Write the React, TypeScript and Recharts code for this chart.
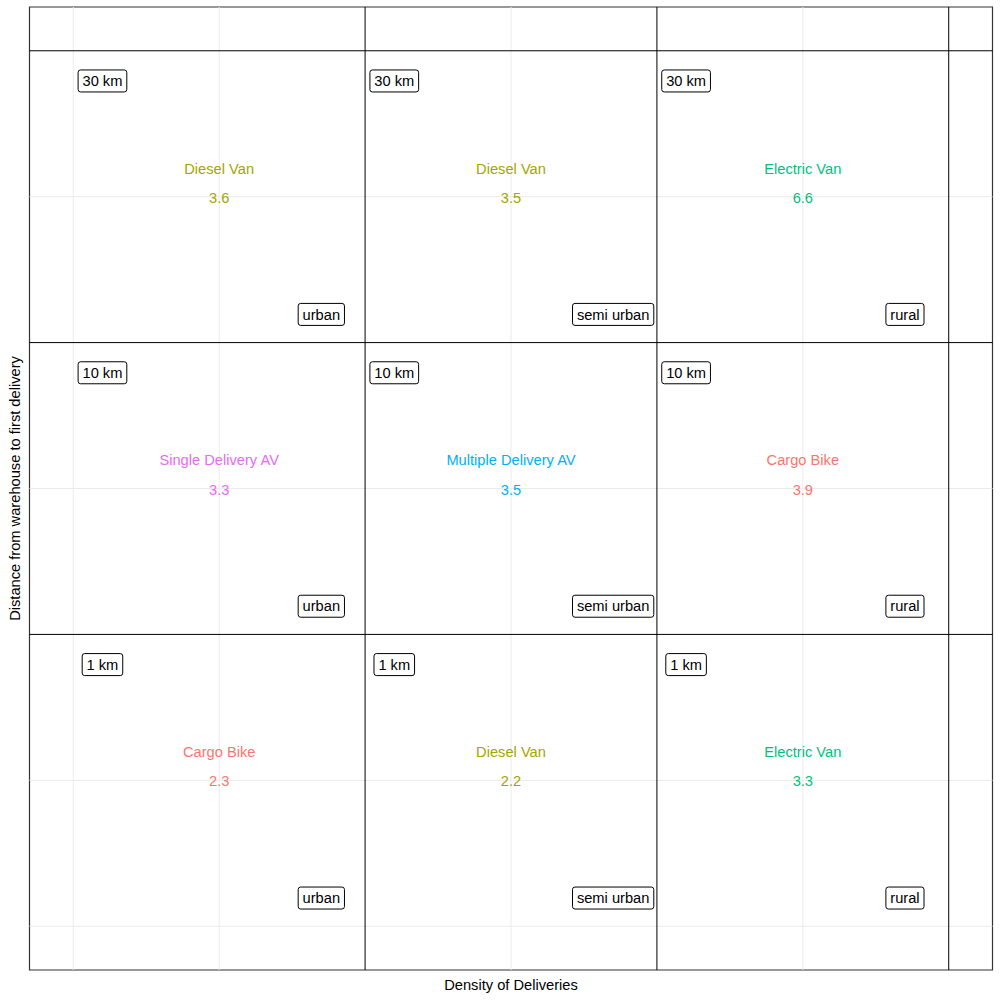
import React from 'react';
import { ScatterChart, Scatter, XAxis, YAxis, ReferenceLine, ReferenceArea } from 'recharts';

const distanceLabels = ['30 km', '10 km', '1 km'];
const areaLabels = ['urban', 'semi urban', 'rural'];
const vehicleRows = [
  ['Diesel Van', 'Diesel Van', 'Electric Van'],
  ['Single Delivery AV', 'Multiple Delivery AV', 'Cargo Bike'],
  ['Cargo Bike', 'Diesel Van', 'Electric Van'],
];
const valueRows = [
  [3.6, 3.5, 6.6],
  [3.3, 3.5, 3.9],
  [2.3, 2.2, 3.3],
];
const vehicleColors: Record<string, string> = {
  'Cargo Bike': '#F8766D',
  'Diesel Van': '#A3A500',
  'Electric Van': '#00BF7D',
  'Multiple Delivery AV': '#00B0F6',
  'Single Delivery AV': '#E76BF3',
};
const columnCenters = [0.5, 1.5, 2.5];
const rowCenters = [2.5, 1.5, 0.5];
const gridValues = [0, 0.5, 1.5, 2.5];
const dividerValues = [1, 2, 3];
const DOMAIN: [number, number] = [-0.15, 3.15];

const FONT = '"Liberation Sans", Arial, sans-serif';
const FS = 14.67;

type Pt = { x: number; y: number; text: string; color: string };

const nameData: Pt[] = [];
const valueData: Pt[] = [];
const distData: Pt[] = [];
const areaData: Pt[] = [];
rowCenters.forEach((ry, r) => {
  columnCenters.forEach((cx, c) => {
    const v = vehicleRows[r][c];
    nameData.push({ x: cx, y: ry + 0.1, text: v, color: vehicleColors[v] });
    valueData.push({ x: cx, y: ry, text: valueRows[r][c].toFixed(1), color: vehicleColors[v] });
    distData.push({ x: cx - 0.4, y: ry + 0.4, text: distanceLabels[r], color: '#000' });
    areaData.push({ x: cx + 0.35, y: ry - 0.4, text: areaLabels[c], color: '#000' });
  });
});

let ctx: CanvasRenderingContext2D | null = null;
function measure(t: string): number {
  try {
    if (!ctx) ctx = document.createElement('canvas').getContext('2d');
    if (ctx) {
      ctx.font = `${FS}px ${FONT}`;
      return ctx.measureText(t).width;
    }
  } catch (e) {}
  return t.length * FS * 0.55;
}

const PlainText = (props: any) => {
  const { cx, cy, payload } = props;
  if (cx == null || cy == null) return null;
  return (
    <text x={cx} y={cy + 1} dy="0.35em" textAnchor="middle" fill={payload.color} fontSize={FS} fontFamily={FONT}>
      {payload.text}
    </text>
  );
};

const BoxLabel = (props: any) => {
  const { cx, cy, payload } = props;
  if (cx == null || cy == null) return null;
  const w = measure(payload.text) + 8.8;
  const h = 22;
  const x0 = cx;
  const y0 = cy + 1;
  return (
    <g>
      <rect x={x0 - w / 2} y={y0 - h / 2} width={w} height={h} rx={2.5} ry={2.5} fill="#fff" stroke="#000" strokeWidth={1} />
      <text x={x0} y={y0} dy="0.35em" textAnchor="middle" fill="#000" fontSize={FS} fontFamily={FONT}>
        {payload.text}
      </text>
    </g>
  );
};

export default function App() {
  return (
    <div style={{ position: 'absolute', left: 0, top: 0, width: 1000, height: 1000, background: '#fff' }}>
      <ScatterChart width={1000} height={1000} margin={{ top: 7, right: 7.5, left: 0, bottom: 0 }}>
        <XAxis
          dataKey="x"
          type="number"
          domain={DOMAIN}
          allowDataOverflow
          tick={false}
          tickLine={false}
          axisLine={false}
          height={30}
          label={{ value: 'Density of Deliveries', position: 'center', fill: '#000', fontSize: FS, fontFamily: FONT }}
        />
        <YAxis
          dataKey="y"
          type="number"
          domain={DOMAIN}
          allowDataOverflow
          tick={false}
          tickLine={false}
          axisLine={false}
          width={29.5}
          label={{ value: 'Distance from warehouse to first delivery', position: 'center', angle: -90, fill: '#000', fontSize: FS, fontFamily: FONT }}
        />
        {gridValues.map((v) => (
          <ReferenceLine key={'gx' + v} x={v} stroke="#EBEBEB" strokeWidth={1} />
        ))}
        {gridValues.map((v) => (
          <ReferenceLine key={'gy' + v} y={v} stroke="#EBEBEB" strokeWidth={1} />
        ))}
        {dividerValues.map((v) => (
          <ReferenceLine key={'dx' + v} x={v} stroke="#000" strokeWidth={1} />
        ))}
        {dividerValues.map((v) => (
          <ReferenceLine key={'dy' + v} y={v} stroke="#000" strokeWidth={1} />
        ))}
        <ReferenceArea x1={DOMAIN[0]} x2={DOMAIN[1]} y1={DOMAIN[0]} y2={DOMAIN[1]} fill="none" fillOpacity={0} stroke="#333333" strokeWidth={1.2} strokeOpacity={1} />
        <Scatter data={nameData} shape={PlainText} isAnimationActive={false} />
        <Scatter data={valueData} shape={PlainText} isAnimationActive={false} />
        <Scatter data={distData} shape={BoxLabel} isAnimationActive={false} />
        <Scatter data={areaData} shape={BoxLabel} isAnimationActive={false} />
      </ScatterChart>
    </div>
  );
}
